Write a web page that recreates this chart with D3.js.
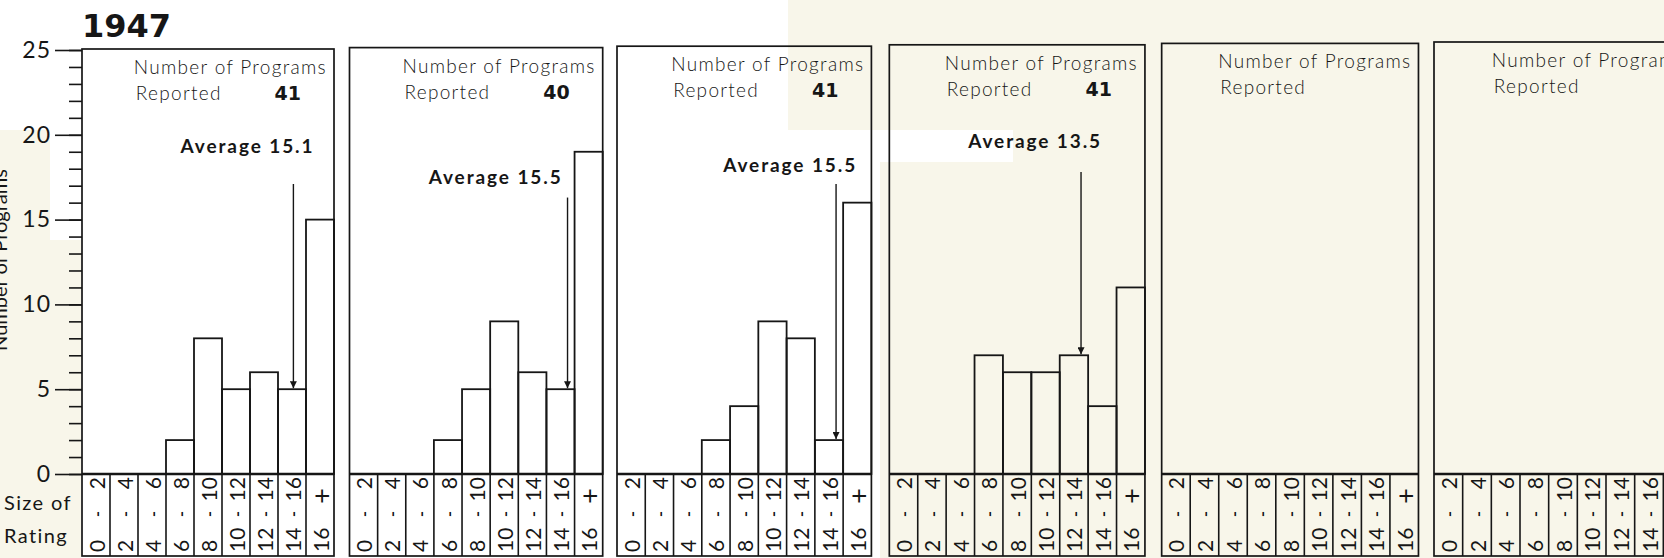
<!DOCTYPE html>
<html>
<head>
<meta charset="utf-8">
<script src="https://cdn.jsdelivr.net/npm/d3@7"></script>
<style>
  html, body { margin: 0; padding: 0; background: #ffffff; }
  svg { display: block; }
  text { fill: #161616; }
</style>
</head>
<body>
<svg id="chart" width="1664" height="558"></svg>
<script>
// ---------------- data ----------------
const title = "1947";
const yAxisTitle = "Number of Programs";
const rowLabels = ["Size of", "Rating"];
const binLow  = ["0", "2", "4", "6", "8", "10", "12", "14", "16"];
const binHigh = ["2", "4", "6", "8", "10", "12", "14", "16", "+"];
const yTicks = [0, 5, 10, 15, 20, 25];

const countsPanel1 = [0, 0, 0, 2, 8, 5, 6, 5, 15];
const countsPanel2 = [0, 0, 0, 2, 5, 9, 6, 5, 19];
const countsPanel3 = [0, 0, 0, 2, 4, 9, 8, 2, 16];
const countsPanel4 = [0, 0, 0, 7, 6, 6, 7, 4, 11];
const panelCounts = [countsPanel1, countsPanel2, countsPanel3, countsPanel4, null, null];

const reported = [41, 40, 41, 41, null, null];
const averages = [15.1, 15.5, 15.5, 13.5, null, null];
const averageLabelLevel = [18.9, 17.1, 17.8, 19.2];   // in "number of programs" units
const arrowStartLevel   = [17.1, 16.3, 17.1, 17.8];

// ---------------- layout ----------------
const W = 1664, H = 558;
const baseY = 474, topY25 = 50, stripBottom = 556;
const ink = "#161616";
const cream = "#f8f6ea";

const svg = d3.select("#chart");

// scanned-page background tones
svg.append("rect").attr("x", 0).attr("y", 0).attr("width", W).attr("height", H).attr("fill", "#ffffff");
svg.append("rect").attr("x", 788).attr("y", 0).attr("width", W - 788).attr("height", 130).attr("fill", cream);
svg.append("rect").attr("x", 1013).attr("y", 130).attr("width", W - 1013).attr("height", 32).attr("fill", cream);
svg.append("rect").attr("x", 880).attr("y", 162).attr("width", W - 880).attr("height", H - 162).attr("fill", cream);
svg.append("rect").attr("x", 0).attr("y", 130).attr("width", 50).attr("height", H - 130).attr("fill", cream);
svg.append("rect").attr("x", 50).attr("y", 240).attr("width", 31).attr("height", H - 240).attr("fill", cream);

const panelX = d3.scaleLinear().domain([0, 2, 5]).range([82, 617, 1434]);
const panelWidth = d3.scaleLinear().domain([0, 5]).range([252, 258]);
const panelTop = d3.scaleLinear().domain([0, 5]).range([49, 42]);
const y = d3.scaleLinear().domain([0, 25]).range([baseY, topY25]);

// ---------------- title ----------------
svg.append("text").text(title)
  .attr("x", 82).attr("y", 37)
  .attr("font-family", "DejaVu Sans").attr("font-weight", "bold")
  .attr("font-size", 32);

// ---------------- y axis ----------------
const axisG = svg.append("g").attr("transform", `translate(82,0)`);
const minorAxis = d3.axisLeft(y).tickValues(d3.range(0, 26, 1)).tickSize(13).tickFormat("");
axisG.append("g").call(minorAxis)
  .call(g => g.select(".domain").remove())
  .selectAll("line").attr("stroke", ink).attr("stroke-width", 1.6);
const majorAxis = d3.axisLeft(y).tickValues(yTicks).tickSize(27).tickPadding(4).tickFormat(d3.format("d"));
axisG.append("g").call(majorAxis)
  .call(g => g.select(".domain").remove())
  .call(g => g.selectAll("line").attr("stroke", ink).attr("stroke-width", 1.6))
  .call(g => g.selectAll("text")
      .attr("font-family", "Lato").attr("font-size", 23).attr("letter-spacing", 1).attr("fill", ink));

svg.append("text").text(yAxisTitle)
  .attr("transform", "translate(7,260) rotate(-90)")
  .attr("text-anchor", "middle")
  .attr("font-family", "Lato").attr("font-size", 20);

rowLabels.forEach((t, i) => {
  svg.append("text").text(t)
    .attr("x", 4).attr("y", 510 + i * 33)
    .attr("font-family", "Lato").attr("font-size", 20)
    .attr("letter-spacing", 1.4);
});

// ---------------- arrow marker ----------------
svg.append("defs").append("marker")
  .attr("id", "arrowhead")
  .attr("viewBox", "0 0 10 10").attr("refX", 10).attr("refY", 5)
  .attr("markerUnits", "userSpaceOnUse")
  .attr("markerWidth", 9).attr("markerHeight", 7)
  .attr("orient", "auto")
  .append("path").attr("d", "M0,0 L10,5 L0,10 Z").attr("fill", ink);

// ---------------- panels ----------------
d3.range(6).forEach(p => {
  const left = panelX(p), panelW = panelWidth(p), right = left + panelW, top = panelTop(p);
  const x = d3.scaleLinear().domain([0, 18]).range([left, right]);
  const g = svg.append("g");

  // frame
  g.append("rect").attr("x", left).attr("y", top)
    .attr("width", panelW).attr("height", stripBottom - top)
    .attr("fill", "none").attr("stroke", ink).attr("stroke-width", 1.7);

  // bars
  const counts = panelCounts[p];
  if (counts) {
    g.selectAll("rect.bar").data(counts.map((v, i) => ({v, i})).filter(d => d.v > 0))
      .join("rect").attr("class", "bar")
      .attr("x", d => x(2 * d.i)).attr("width", d => x(2 * d.i + 2) - x(2 * d.i))
      .attr("y", d => y(d.v)).attr("height", d => baseY - y(d.v))
      .attr("fill", "none").attr("stroke", ink).attr("stroke-width", 1.8);
  }

  // baseline
  g.append("line").attr("x1", left).attr("x2", right)
    .attr("y1", baseY).attr("y2", baseY)
    .attr("stroke", ink).attr("stroke-width", 2.6);

  // category strip dividers
  g.selectAll("line.div").data(d3.range(1, 9)).join("line").attr("class", "div")
    .attr("x1", i => x(2 * i)).attr("x2", i => x(2 * i))
    .attr("y1", baseY).attr("y2", stripBottom)
    .attr("stroke", ink).attr("stroke-width", 1.6);

  // category labels (rotated, reading bottom to top)
  const cells = g.selectAll("g.cell").data(d3.range(9)).join("g").attr("class", "cell")
    .attr("transform", i => `translate(${(x(2 * i) + x(2 * i + 2)) / 2 + 1},${(baseY + stripBottom) / 2}) rotate(-90)`);
  const half = (stripBottom - baseY) / 2;
  cells.append("text").text(i => binLow[i])
    .attr("x", -half + 4).attr("y", 0).attr("dy", "0.36em")
    .attr("text-anchor", "start")
    .attr("font-family", "Lato").attr("font-size", 21);
  cells.append("text").text(i => i < 8 ? "-" : "")
    .attr("x", 1).attr("y", 0).attr("dy", "0.36em")
    .attr("text-anchor", "middle")
    .attr("font-family", "Lato").attr("font-weight", "bold").attr("font-size", 16);
  cells.append("text").text(i => binHigh[i])
    .attr("x", i => i === 8 ? half - 14 : half - 3).attr("y", 0).attr("dy", "0.36em")
    .attr("text-anchor", "end")
    .attr("font-family", "Lato").attr("font-size", i => i === 8 ? 27 : 21);

  // "Number of Programs / Reported"
  const t1 = g.append("text").text("Number of Programs")
    .attr("x", right - 7).attr("y", top + 25)
    .attr("text-anchor", "end")
    .attr("font-family", "Lato").attr("font-weight", 300).attr("font-size", 19).attr("letter-spacing", 1.3);
  const startX = right - 7 - t1.node().getComputedTextLength();
  g.append("text").text("Reported")
    .attr("x", startX + 2).attr("y", top + 51)
    .attr("font-family", "Lato").attr("font-weight", 300).attr("font-size", 19).attr("letter-spacing", 1.3);
  if (reported[p] != null) {
    g.append("text").text(reported[p])
      .attr("x", right - 33).attr("y", top + 51)
      .attr("text-anchor", "end")
      .attr("font-family", "DejaVu Sans").attr("font-weight", "bold").attr("font-size", 19);
  }

  // average annotation + arrow
  if (averages[p] != null) {
    const ax = x(averages[p]);
    const binIdx = Math.min(8, Math.floor(averages[p] / 2));
    const blocked = counts[8] > averageLabelLevel[p] - 1;
    const endX = blocked ? Math.min(ax + 21, x(16) - 12) : ax + 21;
    g.append("text").text("Average " + averages[p].toFixed(1))
      .attr("x", endX).attr("y", y(averageLabelLevel[p]))
      .attr("text-anchor", "end")
      .attr("font-family", "Lato").attr("font-weight", "bold").attr("font-size", 19)
      .attr("letter-spacing", 1.9);
    g.append("line")
      .attr("x1", ax).attr("x2", ax)
      .attr("y1", y(arrowStartLevel[p])).attr("y2", y(counts[binIdx]) - 1)
      .attr("stroke", ink).attr("stroke-width", 1.4)
      .attr("marker-end", "url(#arrowhead)");
  }
});
</script>
</body>
</html>
